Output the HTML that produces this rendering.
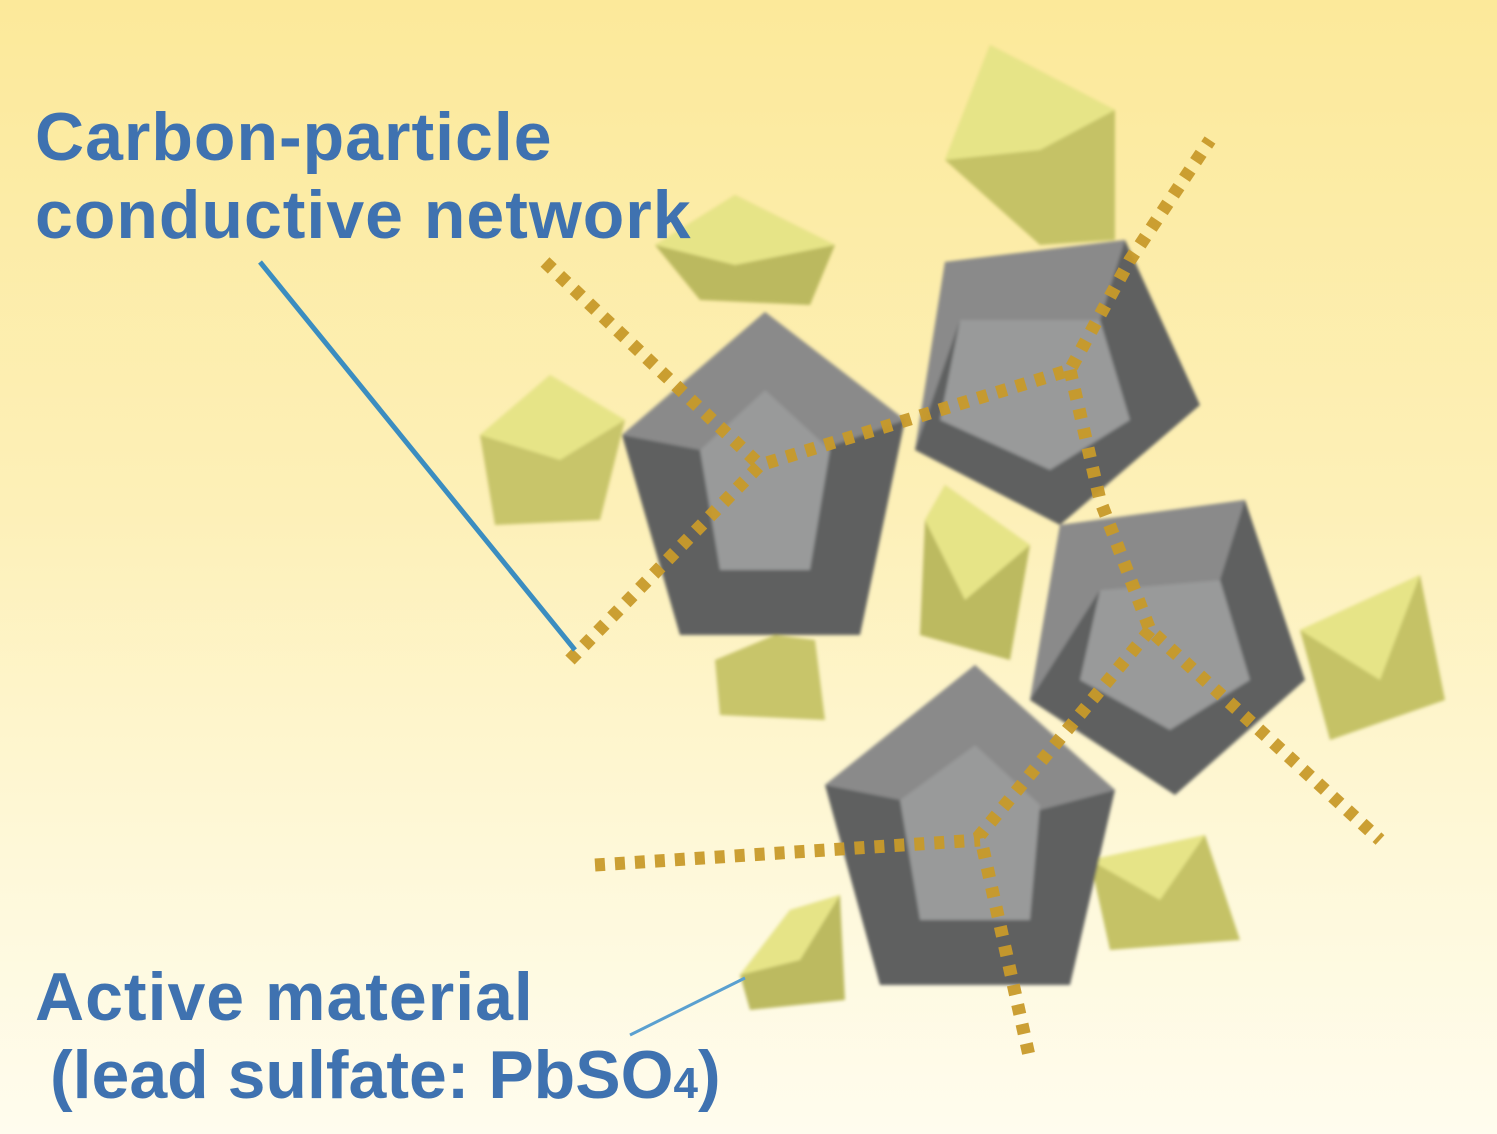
<!DOCTYPE html>
<html><head><meta charset="utf-8"><style>
html,body{margin:0;padding:0}
body{width:1497px;height:1134px;overflow:hidden;background:linear-gradient(180deg,#fce99a 0%,#fdf0b8 45%,#fef8d8 75%,#fffcee 100%);font-family:"Liberation Sans",sans-serif}
svg{position:absolute;left:0;top:0}
.t{font-family:"Liberation Sans",sans-serif;font-weight:bold;font-size:68px;fill:#3f72b0;letter-spacing:1px}
</style></head><body>
<svg width="1497" height="1134" viewBox="0 0 1497 1134">
<defs><filter id="b"><feGaussianBlur stdDeviation="1.5"/></filter></defs>
<g filter="url(#b)">
<polygon points="480,435 550,375 625,420 600,520 495,525" fill="#c8c56a"/>
<polygon points="480,435 550,375 625,420 560,460" fill="#e6e487"/>
<polygon points="655,245 735,195 835,245 810,305 700,300" fill="#bbb95e"/>
<polygon points="655,245 735,195 835,245 735,265" fill="#e6e487"/>
<polygon points="945,160 990,45 1115,110 1115,240 1040,245" fill="#c5c266"/>
<polygon points="945,160 990,45 1115,110 1040,150" fill="#e6e487"/>
<polygon points="925,520 945,485 1030,545 1010,660 920,635" fill="#bcba60"/>
<polygon points="925,520 945,485 1030,545 965,600" fill="#e6e487"/>
<polygon points="715,660 775,635 815,640 825,720 720,715" fill="#c8c56a"/>
<polygon points="1300,630 1420,575 1445,700 1330,740" fill="#c5c266"/>
<polygon points="1300,630 1420,575 1380,680" fill="#e6e487"/>
<polygon points="1090,860 1205,835 1240,940 1110,950" fill="#c5c266"/>
<polygon points="1090,860 1205,835 1160,900" fill="#e6e487"/>
<polygon points="740,975 790,910 840,895 845,1000 750,1010" fill="#bcba60"/>
<polygon points="740,975 790,910 840,895 800,960" fill="#e6e487"/>
<polygon points="765,312 905,420 860,635 680,635 622,435" fill="#5f6060"/>
<polygon points="765,312 905,420 820,450 765,390 700,450 622,435" fill="#8a8a8a"/>
<polygon points="765,390 830,450 810,570 720,570 700,450" fill="#999a9a"/>
<polygon points="945,262 1125,240 1200,405 1060,525 915,450" fill="#5f6060"/>
<polygon points="945,262 1125,240 1100,320 960,320 915,450" fill="#8a8a8a"/>
<polygon points="960,320 1100,320 1130,420 1050,470 940,420" fill="#999a9a"/>
<polygon points="1245,500 1305,680 1175,795 1030,700 1060,525" fill="#5f6060"/>
<polygon points="1060,525 1245,500 1220,580 1100,590 1030,700" fill="#8a8a8a"/>
<polygon points="1100,590 1220,580 1250,680 1170,730 1080,680" fill="#999a9a"/>
<polygon points="975,665 1115,790 1070,985 880,985 825,785" fill="#5f6060"/>
<polygon points="975,665 1115,790 1040,810 975,745 900,800 825,785" fill="#8a8a8a"/>
<polygon points="975,745 1040,805 1030,920 920,920 900,800" fill="#999a9a"/>
</g>
<g fill="none" stroke="#c89a2a" stroke-width="13" stroke-dasharray="10 10" opacity="0.95">
<polyline points="570,660 760,465 1070,370 1130,260 1210,140"/>
<polyline points="545,262 760,465"/>
<polyline points="1070,370 1100,500 1150,630 1380,840"/>
<polyline points="1150,630 980,835 1030,1060"/>
<polyline points="595,865 980,840"/>
</g>
<line x1="260" y1="262" x2="575" y2="650" stroke="#3b8dc0" stroke-width="5"/>
<line x1="630" y1="1035" x2="745" y2="978" stroke="#5aa0d0" stroke-width="3"/>
<text class="t" x="35" y="160">Carbon-particle</text>
<text class="t" x="35" y="238">conductive network</text>
<text class="t" x="35" y="1020">Active material</text>
<text class="t" x="50" y="1098" style="letter-spacing:0">(lead sulfate: PbSO<tspan font-size="44">4</tspan>)</text>
</svg>
</body></html>
